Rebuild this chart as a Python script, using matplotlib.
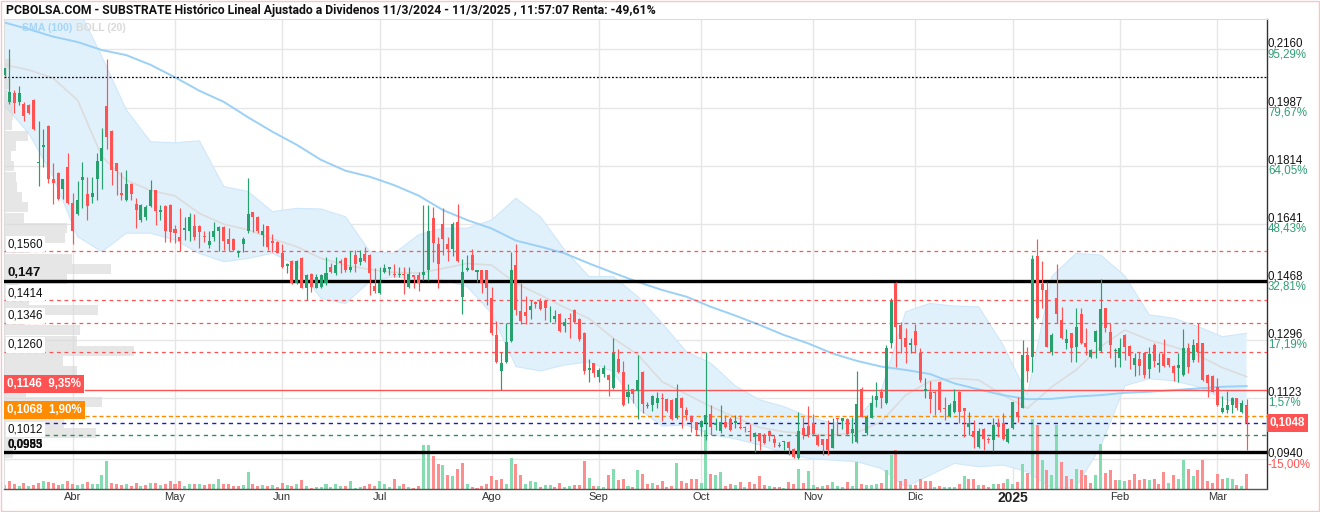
import matplotlib
matplotlib.use("Agg")
import matplotlib.pyplot as plt
import matplotlib.transforms as mtransforms
from matplotlib.patches import Rectangle
import numpy as np

# ---------------- data ----------------
opens = [0.2084,0.2004,0.2031,0.2003,0.1999,0.1995,0.2009,0.1821,0.1870,0.1932,
0.1773,0.1792,0.1744,0.1811,0.1702,0.1670,0.1771,0.1730,0.1722,0.1774,
0.1829,0.1992,0.1917,0.1821,0.1732,0.1712,0.1759,0.1700,0.1651,0.1660,
0.1695,0.1741,0.1677,0.1695,0.1697,0.1625,0.1603,0.1623,0.1621,0.1635,
0.1635,0.1604,0.1578,0.1603,0.1621,0.1630,0.1596,0.1596,0.1553,0.1581,
0.1621,0.1675,0.1662,0.1608,0.1633,0.1591,0.1588,0.1555,0.1515,0.1531,
0.1464,0.1540,0.1451,0.1492,0.1451,0.1454,0.1464,0.1513,0.1496,0.1531,
0.1540,0.1502,0.1548,0.1528,0.1550,0.1548,0.1457,0.1434,0.1499,0.1507,
0.1492,0.1489,0.1492,0.1454,0.1488,0.1488,0.1489,0.1502,0.1657,0.1581,
0.1640,0.1581,0.1565,0.1647,0.1422,0.1502,0.1548,0.1499,0.1502,0.1502,
0.1421,0.1310,0.1204,0.1231,0.1293,0.1518,0.1381,0.1379,0.1384,0.1409,
0.1412,0.1412,0.1392,0.1357,0.1373,0.1338,0.1362,0.1384,0.1358,0.1317,
0.1206,0.1226,0.1184,0.1193,0.1191,0.1153,0.1238,0.1201,0.1127,0.1148,
0.1143,0.1201,0.1100,0.1102,0.1107,0.1124,0.1120,0.1117,0.1062,0.1124,
0.1087,0.1069,0.1050,0.1035,0.1047,0.1075,0.1042,0.1024,0.1052,0.1060,
0.1047,0.1037,0.1037,0.1024,0.1005,0.1017,0.1009,0.1024,0.1000,0.0980,
0.0992,0.0993,0.0970,0.0943,0.1034,0.1039,0.1047,0.1012,0.1000,0.1000,
0.0975,0.1062,0.1055,0.1059,0.1017,0.0993,0.1149,0.1017,0.1064,0.1117,
0.1141,0.1107,0.1287,0.1464,0.1340,0.1300,0.1280,0.1322,0.1255,0.1143,
0.1141,0.1141,0.1171,0.1094,0.1069,0.1082,0.1141,0.1092,0.1037,0.1024,
0.0976,0.1029,0.1002,0.0999,0.1047,0.1047,0.0993,0.1032,0.1080,0.1094,
0.1250,0.1244,0.1545,0.1462,0.1444,0.1258,0.1421,0.1355,0.1287,0.1315,
0.1275,0.1373,0.1285,0.1245,0.1290,0.1263,0.1389,0.1320,0.1262,0.1243,
0.1310,0.1277,0.1221,0.1238,0.1255,0.1209,0.1280,0.1221,0.1253,0.1241,
0.1218,0.1211,0.1191,0.1270,0.1236,0.1285,0.1285,0.1191,0.1188,0.1156,
0.1082,0.1087,0.1102,0.1122,0.1082,0.1102]
highs = [0.2106,0.2160,0.2039,0.2051,0.2004,0.1997,0.2011,0.1947,0.1922,0.1934,
0.1821,0.1794,0.1775,0.1851,0.1732,0.1768,0.1826,0.1779,0.1781,0.1851,
0.1925,0.2131,0.1919,0.1823,0.1796,0.1801,0.1761,0.1717,0.1699,0.1697,
0.1771,0.1743,0.1697,0.1697,0.1699,0.1637,0.1687,0.1662,0.1672,0.1669,
0.1637,0.1621,0.1621,0.1647,0.1633,0.1633,0.1628,0.1598,0.1563,0.1603,
0.1776,0.1677,0.1664,0.1640,0.1635,0.1610,0.1590,0.1581,0.1523,0.1533,
0.1533,0.1542,0.1491,0.1494,0.1492,0.1492,0.1541,0.1523,0.1541,0.1535,
0.1542,0.1560,0.1563,0.1563,0.1571,0.1550,0.1508,0.1511,0.1520,0.1512,
0.1520,0.1511,0.1513,0.1511,0.1490,0.1498,0.1697,0.1697,0.1690,0.1601,
0.1687,0.1603,0.1647,0.1700,0.1535,0.1548,0.1565,0.1504,0.1504,0.1504,
0.1454,0.1352,0.1260,0.1345,0.1558,0.1581,0.1464,0.1426,0.1414,0.1411,
0.1419,0.1414,0.1396,0.1384,0.1375,0.1360,0.1375,0.1386,0.1360,0.1319,
0.1239,0.1228,0.1211,0.1221,0.1193,0.1300,0.1268,0.1233,0.1164,0.1150,
0.1250,0.1203,0.1110,0.1131,0.1141,0.1138,0.1122,0.1119,0.1164,0.1126,
0.1097,0.1071,0.1052,0.1056,0.1260,0.1102,0.1062,0.1102,0.1072,0.1067,
0.1072,0.1072,0.1039,0.1044,0.1021,0.1019,0.1017,0.1027,0.1012,0.0993,
0.0995,0.0995,0.0973,0.1082,0.1067,0.1099,0.1074,0.1014,0.1002,0.1057,
0.1062,0.1064,0.1064,0.1062,0.1067,0.1204,0.1156,0.1072,0.1131,0.1169,
0.1148,0.1280,0.1419,0.1469,0.1350,0.1330,0.1300,0.1342,0.1270,0.1181,
0.1173,0.1144,0.1173,0.1127,0.1107,0.1148,0.1143,0.1094,0.1082,0.1057,
0.1032,0.1032,0.1007,0.1062,0.1062,0.1077,0.1032,0.1112,0.1127,0.1295,
0.1275,0.1548,0.1595,0.1530,0.1469,0.1315,0.1520,0.1394,0.1327,0.1317,
0.1389,0.1389,0.1330,0.1267,0.1325,0.1476,0.1391,0.1345,0.1270,0.1300,
0.1312,0.1280,0.1255,0.1260,0.1258,0.1275,0.1285,0.1255,0.1297,0.1243,
0.1221,0.1255,0.1327,0.1287,0.1297,0.1347,0.1287,0.1193,0.1190,0.1183,
0.1129,0.1144,0.1126,0.1124,0.1117,0.1119]
lows = [0.2082,0.1999,0.1970,0.1995,0.1948,0.1968,0.1920,0.1754,0.1811,0.1761,
0.1699,0.1712,0.1715,0.1699,0.1581,0.1667,0.1687,0.1651,0.1702,0.1712,
0.1744,0.1863,0.1756,0.1727,0.1712,0.1709,0.1712,0.1629,0.1647,0.1652,
0.1692,0.1637,0.1652,0.1588,0.1588,0.1585,0.1560,0.1594,0.1591,0.1594,
0.1570,0.1588,0.1570,0.1590,0.1560,0.1563,0.1560,0.1560,0.1541,0.1558,
0.1613,0.1618,0.1613,0.1576,0.1563,0.1558,0.1553,0.1508,0.1494,0.1461,
0.1461,0.1449,0.1414,0.1439,0.1449,0.1451,0.1459,0.1495,0.1489,0.1494,
0.1499,0.1499,0.1499,0.1518,0.1528,0.1429,0.1436,0.1432,0.1494,0.1489,
0.1484,0.1484,0.1431,0.1451,0.1449,0.1442,0.1474,0.1474,0.1528,0.1449,
0.1548,0.1531,0.1545,0.1528,0.1372,0.1500,0.1502,0.1469,0.1434,0.1399,
0.1310,0.1226,0.1146,0.1228,0.1290,0.1370,0.1342,0.1342,0.1357,0.1389,
0.1384,0.1355,0.1350,0.1350,0.1320,0.1320,0.1300,0.1347,0.1293,0.1194,
0.1169,0.1184,0.1171,0.1186,0.1129,0.1148,0.1196,0.1100,0.1107,0.1107,
0.1060,0.1077,0.1092,0.1085,0.1092,0.1054,0.1082,0.1057,0.1059,0.1032,
0.1057,0.1022,0.1012,0.1009,0.0997,0.1012,0.1027,0.1019,0.1032,0.1024,
0.1032,0.1029,0.1022,0.0994,0.0963,0.0968,0.0986,0.0995,0.0976,0.0978,
0.0968,0.0953,0.0943,0.0940,0.1002,0.1007,0.1012,0.0980,0.0953,0.0953,
0.0973,0.1012,0.1029,0.1012,0.0988,0.0990,0.1065,0.1012,0.1062,0.1097,
0.1092,0.1105,0.1270,0.1216,0.1255,0.1226,0.1255,0.1255,0.1169,0.1122,
0.1077,0.1072,0.1082,0.1057,0.1065,0.1077,0.1047,0.1007,0.1012,0.0975,
0.0973,0.0968,0.0988,0.0966,0.1007,0.0999,0.0990,0.1029,0.1052,0.1092,
0.1169,0.1201,0.1358,0.1389,0.1273,0.1250,0.1345,0.1298,0.1268,0.1231,
0.1231,0.1283,0.1252,0.1243,0.1243,0.1260,0.1320,0.1241,0.1216,0.1216,
0.1236,0.1208,0.1189,0.1191,0.1181,0.1181,0.1216,0.1201,0.1216,0.1216,
0.1173,0.1171,0.1188,0.1198,0.1231,0.1231,0.1174,0.1127,0.1139,0.1100,
0.1079,0.1079,0.1079,0.1087,0.1079,0.0968]
closes = [0.2104,0.2034,0.2001,0.2031,0.1963,0.1970,0.1922,0.1826,0.1875,0.1773,
0.1761,0.1715,0.1773,0.1702,0.1621,0.1712,0.1781,0.1695,0.1732,0.1828,
0.1866,0.1900,0.1801,0.1799,0.1726,0.1759,0.1730,0.1682,0.1697,0.1692,
0.1741,0.1680,0.1682,0.1621,0.1616,0.1613,0.1591,0.1628,0.1662,0.1603,
0.1616,0.1601,0.1591,0.1621,0.1630,0.1591,0.1581,0.1563,0.1561,0.1596,
0.1669,0.1662,0.1621,0.1621,0.1573,0.1583,0.1555,0.1513,0.1521,0.1464,
0.1531,0.1451,0.1489,0.1454,0.1484,0.1489,0.1494,0.1497,0.1518,0.1525,
0.1502,0.1511,0.1520,0.1538,0.1531,0.1494,0.1441,0.1464,0.1508,0.1511,
0.1489,0.1492,0.1489,0.1492,0.1482,0.1464,0.1498,0.1620,0.1585,0.1520,
0.1596,0.1565,0.1640,0.1531,0.1497,0.1508,0.1504,0.1502,0.1464,0.1451,
0.1315,0.1231,0.1228,0.1290,0.1502,0.1384,0.1352,0.1367,0.1396,0.1402,
0.1386,0.1389,0.1394,0.1367,0.1323,0.1348,0.1357,0.1350,0.1298,0.1204,
0.1211,0.1196,0.1206,0.1213,0.1176,0.1255,0.1201,0.1102,0.1141,0.1134,
0.1176,0.1105,0.1102,0.1129,0.1124,0.1121,0.1085,0.1060,0.1124,0.1094,
0.1072,0.1050,0.1027,0.1054,0.1072,0.1037,0.1047,0.1052,0.1037,0.1027,
0.1054,0.1032,0.1032,0.1021,0.1019,0.0995,0.0990,0.1009,0.0990,0.0983,
0.0993,0.0975,0.0946,0.1024,0.1012,0.1012,0.1015,0.0983,0.0983,0.0968,
0.1029,0.1060,0.1062,0.1015,0.1029,0.1104,0.1067,0.1067,0.1107,0.1129,
0.1124,0.1270,0.1411,0.1335,0.1297,0.1275,0.1285,0.1280,0.1176,0.1148,
0.1120,0.1136,0.1087,0.1089,0.1102,0.1114,0.1082,0.1085,0.1047,0.1007,
0.1024,0.1002,0.0999,0.1042,0.1035,0.1002,0.1029,0.1110,0.1067,0.1250,
0.1204,0.1535,0.1360,0.1444,0.1275,0.1310,0.1373,0.1302,0.1297,0.1272,
0.1333,0.1285,0.1275,0.1265,0.1322,0.1386,0.1332,0.1280,0.1265,0.1270,
0.1275,0.1248,0.1241,0.1219,0.1191,0.1253,0.1234,0.1226,0.1219,0.1221,
0.1198,0.1221,0.1270,0.1216,0.1280,0.1258,0.1176,0.1168,0.1141,0.1102,
0.1094,0.1102,0.1124,0.1092,0.1109,0.1048]
volumes = [10,22,15,7,17,7,10,17,22,20,17,10,15,22,13,10,15,20,15,15,
40,82,17,13,10,13,7,17,7,10,18,18,10,15,22,15,22,7,15,15,
13,10,13,15,28,15,13,8,8,10,50,15,
7,12,7,10,5,18,10,7,13,25,7,3,5,5,13,5,13,7,8,22,
3,5,7,13,7,22,15,5,28,7,13,5,3,7,130,130,97,73,70,40,
37,58,78,13,5,3,8,13,37,25,30,
15,92,75,40,15,23,20,5,10,12,5,18,5,7,10,10,82,33,7,7,
5,40,60,27,30,7,5,57,45,15,18,10,23,5,8,77,22,18,30,28,
18,175,45,40,50,7,13,10,20,5,20,15,
37,10,8,5,5,3,20,13,60,18,53,12,5,8,12,20,8,5,20,8,
80,15,12,12,15,18,57,100,117,23,30,10,12,30,22,23,5,7,5,5,
5,15,37,28,30,12,10,5,15,15,17,
30,15,20,73,47,210,190,87,55,40,190,80,37,30,60,55,40,17,40,135,
47,55,27,27,22,27,45,27,30,27,30,15,50,17,40,30,87,60,37,55,
87,23,17,45,30,33,30,12,7,43]

# indicator lines, read every 5 sessions
ind_idx = list(range(0, 256, 5))
sma100 = [0.2240,0.2220,0.2198,0.2182,0.2158,0.2143,0.2114,0.2077,0.2037,0.2004,
0.1958,0.1915,0.1876,0.1831,0.1799,0.1781,0.1756,0.1725,0.1682,0.1652,
0.1627,0.1591,0.1573,0.1553,0.1523,0.1495,0.1468,0.1444,0.1424,0.1394,
0.1368,0.1340,0.1310,0.1285,0.1255,0.1233,0.1216,0.1206,0.1194,0.1166,
0.1148,0.1131,0.1119,0.1120,0.1127,0.1131,0.1138,0.1141,0.1146,0.1151,
0.1156,0.1158]
boll_up = [0.2396,0.2366,0.2337,0.2287,0.2138,0.1980,0.1885,0.1882,0.1888,0.1752,
0.1737,0.1677,0.1687,0.1685,0.1662,0.1558,0.1553,0.1608,0.1628,0.1628,
0.1652,0.1717,0.1662,0.1563,0.1484,0.1484,0.1424,0.1345,0.1260,0.1226,
0.1159,0.1117,0.1097,0.1067,0.1047,0.1059,0.1146,0.1379,0.1404,0.1396,
0.1394,0.1280,0.1132,0.1484,0.1553,0.1548,0.1486,0.1370,0.1360,0.1335,
0.1305,0.1315]
boll_mid = [0.2114,0.2099,0.2074,0.2009,0.1841,0.1771,0.1740,0.1724,0.1672,0.1640,
0.1623,0.1596,0.1573,0.1538,0.1518,0.1505,0.1496,0.1494,0.1508,0.1523,
0.1518,0.1464,0.1429,0.1392,0.1359,0.1300,0.1252,0.1171,0.1134,0.1097,
0.1065,0.1035,0.1022,0.1016,0.1012,0.1020,0.1052,0.1131,0.1173,0.1181,
0.1176,0.1131,0.1092,0.1156,0.1206,0.1275,0.1325,0.1295,0.1275,0.1250,
0.1213,0.1186]
boll_low = [0.1994,0.1910,0.1781,0.1603,0.1558,0.1613,0.1613,0.1593,0.1553,0.1528,
0.1538,0.1553,0.1518,0.1419,0.1404,0.1469,0.1484,0.1474,0.1474,0.1454,
0.1374,0.1216,0.1203,0.1221,0.1230,0.1201,0.1092,0.1039,0.1042,0.1014,
0.1001,0.0983,0.0958,0.0943,0.0938,0.0933,0.0913,0.0858,0.0893,0.0928,
0.0918,0.0923,0.0903,0.0853,0.0858,0.0977,0.1159,0.1180,0.1174,0.1156,
0.1122,0.1100]

# volume-at-price profile (left side)
profile_prices = [0.2117,0.2086,0.2056,0.2025,0.1995,0.1964,0.1934,0.1903,0.1873,0.1842,
0.1812,0.1781,0.1751,0.1720,0.1690,0.1659,0.1629,0.1598,0.1568,0.1537,
0.1507,0.1476,0.1446,0.1415,0.1385,0.1354,0.1324,0.1293,0.1263,0.1232,
0.1202,0.1171,0.1141,0.1110,0.1080,0.1049,0.1019,0.0988,0.0958]
profile_vol = [7,3,7,3,9,9,8,24,12,7,10,12,13,18,24,20,63,61,25,68,
107,63,15,25,94,21,76,73,130,59,73,50,22,98,60,60,92,20,9]

month_pos = [14, 35, 57, 77, 100, 122, 143, 166, 187, 207, 229, 249]
month_labels = ["Abr", "May", "Jun", "Jul", "Ago", "Sep", "Oct", "Nov", "Dic", "2025", "Feb", "Mar"]

price_ticks = [0.2160, 0.1987, 0.1814, 0.1641, 0.1468, 0.1296, 0.1123, 0.0940]
price_tick_labels = ["0,2160", "0,1987", "0,1814", "0,1641", "0,1468", "0,1296", "0,1123", "0,0940"]
pct_labels = ["95,29%", "79,67%", "64,05%", "48,43%", "32,81%", "17,19%", "1,57%", "-15,00%"]

red_levels = [0.1560, 0.1414, 0.1346, 0.1260]
red_level_labels = ["0,1560", "0,1414", "0,1346", "0,1260"]
thick_level = 0.147
bottom_level = 0.0961
dotted_level = 0.2079
stop_level = 0.1146
orange_level = 0.1068
green_level = 0.1012
last_price = 0.1048

title = ("PCBOLSA.COM - SUBSTRATE Histórico Lineal Ajustado a Dividenos "
         "11/3/2024 - 11/3/2025 , 11:57:07 Renta: -49,61%")

# ---------------- figure ----------------
W, H = 1320, 512
fig = plt.figure(figsize=(W / 100, H / 100), dpi=100)
fig.patch.set_facecolor("white")

def fx(px):
    return px / W

def fy(py):
    return 1 - py / H

L, R, T, B = 4, 1267, 19, 488.5
ax = fig.add_axes([fx(L), fy(B), fx(R) - fx(L), fy(T) - fy(B)])
ax.set_xlim(-0.103, 259.18)
ax.set_ylim(0.08532, 0.22505)
ax.set_facecolor("white")

UP = "#26a06c"
DOWN = "#ff5252"
VUP = "#86dcb1"
VDOWN = "#fb8f8f"
LAB = "Liberation Sans"

# gridlines
for p in price_ticks:
    ax.axhline(p, color="#e6e6e6", lw=1.0, zorder=0)
for m in month_pos:
    ax.axvline(m, color="#e6e6e6", lw=1.0, zorder=0)

# Bollinger band and SMA
ax.fill_between(ind_idx, boll_low, boll_up, color="#e1f1fc", lw=0, zorder=1)
ax.plot(ind_idx, boll_up, color="#cfe7fa", lw=0.8, zorder=1.1)
ax.plot(ind_idx, boll_low, color="#cfe7fa", lw=0.8, zorder=1.1)
ax.plot(ind_idx, boll_mid, color="#dcdcdc", lw=1.2, zorder=1.2)
ax.plot(ind_idx, sma100, color="#9bd0f7", lw=1.4, zorder=1.3)

# volume-at-price profile
tr_prof = mtransforms.Affine2D().scale(1.0 / (R - L), 1.0) + \
    mtransforms.blended_transform_factory(ax.transAxes, ax.transData)
ax.barh(profile_prices, profile_vol, height=0.0029, left=0, color="#d9d9d9",
        alpha=0.65, edgecolor="none", transform=tr_prof, zorder=1.5)

# volumes
n = len(closes)
x = np.arange(n)
cl = np.array(closes)
vol_up = np.concatenate([[True], cl[1:] >= cl[:-1]])
tr_vol = mtransforms.Affine2D().scale(1.0, 1.0 / 1410.0) + \
    mtransforms.blended_transform_factory(ax.transData, ax.transAxes)
ax.bar(x, volumes, width=0.62, bottom=0, color=np.where(vol_up, VUP, VDOWN),
       edgecolor="none", transform=tr_vol, zorder=2)

# horizontal levels
ax.axhline(dotted_level, color="black", lw=0.9, ls=(0, (1.5, 1.5)), zorder=3)
for p in red_levels:
    ax.axhline(p, color="#ff5252", lw=0.9, ls=(0, (3, 3)), zorder=3)
ax.axhline(thick_level, color="black", lw=2.4, zorder=3.5)
ax.axhline(bottom_level, color="black", lw=2.4, zorder=3.5)
ax.axhline(stop_level, xmin=81 / (R - L), color="#ff5252", lw=1.0, zorder=3)
ax.axhline(orange_level, xmin=81 / (R - L), color="#ff8c00", lw=1.0, ls=(0, (3, 2)), zorder=3)
ax.axhline(last_price, xmin=41 / (R - L), color="#1a1acc", lw=1.0, ls=(0, (3, 3)), zorder=3)
ax.axhline(green_level, xmin=41 / (R - L), color="#2e8b66", lw=1.0, ls=(0, (3, 3)), zorder=3)

# candles
O = np.array(opens); C = cl; Hh = np.array(highs); Ll = np.array(lows)
cols = np.where(C >= O, UP, DOWN)
ax.vlines(x, Ll, Hh, colors=cols, lw=0.85, zorder=5)
ax.bar(x, np.maximum(np.abs(C - O), 0.00014), bottom=np.minimum(O, C), width=0.62,
       color=cols, edgecolor="none", zorder=6)

# axes frame
for s in ["left", "top"]:
    ax.spines[s].set_color("#dddddd")
    ax.spines[s].set_linewidth(0.8)
ax.spines["bottom"].set_color("#555555")
ax.spines["bottom"].set_linewidth(1.0)
ax.spines["right"].set_color("#333333")
ax.spines["right"].set_linewidth(1.0)
ax.set_xticks([])
ax.set_yticks([])

# month labels
tr_x = mtransforms.blended_transform_factory(ax.transData, ax.transAxes)
for m, lab in zip(month_pos, month_labels):
    if lab == "2025":
        ax.text(m, -0.02, lab, transform=tr_x, ha="center", va="center",
                fontsize=10, fontweight="bold", color="#222222", family=LAB)
    else:
        ax.text(m, -0.019, lab, transform=tr_x, ha="center", va="center",
                fontsize=8, color="#333333", family=LAB)

# right axis labels
tr_r = mtransforms.blended_transform_factory(fig.transFigure, ax.transData)
dp = 1.0 / 3360.0  # price per pixel
for p, lab, pc in zip(price_ticks, price_tick_labels, pct_labels):
    ax.text(fx(1268), p + 5.5 * dp, lab, transform=tr_r, ha="left", va="center",
            fontsize=8.3, color="#111111", family=LAB, clip_on=False)
    ax.text(fx(1268), p - 5.0 * dp, pc, transform=tr_r, ha="left", va="center",
            fontsize=8.3, color="#ff5252" if pc.startswith("-") else "#2f9e74",
            family=LAB, clip_on=False)
ax.text(fx(1270), last_price, "0,1048", transform=tr_r, ha="left", va="center",
        fontsize=8.3, fontweight="bold", color="white", family=LAB, clip_on=False,
        bbox=dict(boxstyle="square,pad=0.25", facecolor="#ff5252", edgecolor="none"))

# left labels
for p, lab in zip(red_levels, red_level_labels):
    ax.text(fx(8), p + 7 * dp, lab, transform=tr_r, ha="left", va="center",
            fontsize=8.3, color="#111111", family=LAB, zorder=7,
            bbox=dict(boxstyle="square,pad=0.15", facecolor="white", edgecolor="none"))
ax.text(fx(8), thick_level + 8.5 * dp, "0,147", transform=tr_r, ha="left", va="center",
        fontsize=9.5, fontweight="bold", color="#111111", family=LAB, zorder=7)
ax.text(fx(7), stop_level + 6 * dp, "0,1146  9,35%", transform=tr_r, ha="left", va="center",
        fontsize=8.3, fontweight="bold", color="white", family=LAB, zorder=7,
        bbox=dict(boxstyle="square,pad=0.25", facecolor="#ff5252", edgecolor="none"))
ax.text(fx(7), orange_level + 6 * dp, "0,1068  1,90%", transform=tr_r, ha="left", va="center",
        fontsize=8.3, fontweight="bold", color="white", family=LAB, zorder=7,
        bbox=dict(boxstyle="square,pad=0.25", facecolor="#ff8c00", edgecolor="none"))
ax.text(fx(8), green_level + 5.5 * dp, "0,1012", transform=tr_r, ha="left", va="center",
        fontsize=8.3, color="#111111", family=LAB, zorder=7,
        bbox=dict(boxstyle="square,pad=0.15", facecolor="white", edgecolor="none"))
ax.text(fx(7), bottom_level + 7 * dp, "0,0953", transform=tr_r, ha="left", va="center",
        fontsize=8.3, fontweight="bold", color="#111111", family=LAB, zorder=7)
ax.text(fx(7), bottom_level + 7 * dp, "0,0985", transform=tr_r, ha="left", va="center",
        fontsize=8.3, fontweight="bold", color="#111111", family=LAB, zorder=7)

# legend / title
fig.text(fx(22), fy(28), "SMA (100)", fontsize=7.6, fontweight="bold", color="#a6d5f8",
         ha="left", va="center", family=LAB)
fig.text(fx(76), fy(28), "BOLL (20)", fontsize=7.6, fontweight="bold", color="#d9d9d9",
         ha="left", va="center", family=LAB)
fig.text(fx(6), fy(10.5), title, fontsize=8.8, fontweight="bold", color="#111111",
         ha="left", va="center", family="Roboto")

# outer frame
fig.patches.append(Rectangle((0.0005, 0.001), 0.999, 0.998, transform=fig.transFigure,
                             fill=False, edgecolor="#f0c8c8", lw=1.0))

fig.savefig("out.png", dpi=100, facecolor="white")
